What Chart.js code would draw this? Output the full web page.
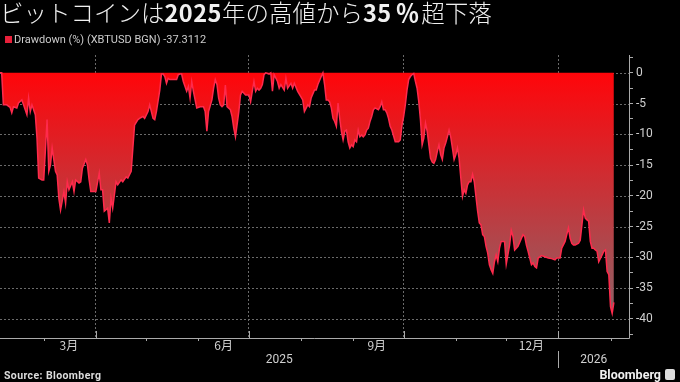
<!DOCTYPE html>
<html>
<head>
<meta charset="utf-8">
<script src="https://cdn.jsdelivr.net/npm/chart.js@4.4.1/dist/chart.umd.min.js"></script>
<style>
  html, body { margin: 0; padding: 0; background: #000; }
  #wrap { position: relative; width: 680px; height: 382px; overflow: hidden; background: #000; }
  #chart { position: absolute; left: 0; top: 0; }
  .title { position: absolute; left: 0; top: -2px; font-family: "Noto Sans CJK JP", sans-serif; font-size: 23.5px;
           line-height: 28px; color: #f0f0f0; font-weight: 300; white-space: nowrap; }
  .title b { font-weight: 700; letter-spacing: 0.5px; }
  .title .pc { margin: 0 2px 0 4px; letter-spacing: 0; }
  .legend { position: absolute; left: 5px; top: 33px; font-family: Roboto, sans-serif; font-size: 11px; color: #ccc; white-space: nowrap; }
  .legend i { display: inline-block; width: 7px; height: 7px; background: #e8203a; margin-right: 2px; }
  .source { position: absolute; left: 4px; top: 369px; font-family: Roboto, sans-serif; font-size: 10.5px; font-weight: 700;
            color: #ddd; letter-spacing: 0.4px; }
  .logo { position: absolute; right: 5px; top: 367px; font-family: Roboto, sans-serif; font-size: 12.5px; font-weight: 700; color: #f0f0f0; }
  .logo span { display: inline-block; width: 10px; height: 11px; background: #ddd; border-radius: 2px; margin-left: 4px; vertical-align: -1px; }
</style>
</head>
<body>
<div id="wrap">
  <canvas id="chart" width="680" height="382"></canvas>
  <div class="title">ビットコインは<b>2025</b>年の高値から<b>35</b><b class="pc">％</b>超下落</div>
  <div class="legend"><i></i>Drawdown (%) (XBTUSD BGN) -37.3112</div>
  <div class="source">Source: Bloomberg</div>
  <div class="logo">Bloomberg<span></span></div>
</div>
<script>
// days since 2025-02-03
const dayOffsets = [
  0, 1, 2, 4, 6, 7, 8, 10, 11, 13, 14, 16, 17, 18, 19, 21, 22, 23, 25, 26, 28, 29, 30, 31, 33, 34, 35, 36, 38, 39,
  40, 41, 43, 44, 45, 47, 48, 49, 51, 52, 53, 54, 56, 57, 59, 60, 61, 62, 64, 65, 66, 67, 69, 70, 72, 73, 75, 76, 78, 79,
  80, 82, 83, 85, 86, 88, 89, 90, 91, 92, 93, 95, 96, 97, 98, 99, 100, 101, 103, 105, 106, 107, 108, 109, 111, 112, 113, 114, 115, 117,
  119, 121, 122, 123, 124, 126, 127, 128, 129, 130, 131, 132, 133, 134, 135, 137, 138, 139, 140, 142, 143, 144, 146, 148, 149, 150, 151, 152, 153, 154,
  155, 156, 157, 158, 160, 161, 162, 163, 165, 166, 167, 169, 170, 171, 173, 174, 175, 177, 180, 181, 183, 184, 185, 187, 188, 189, 191, 192, 193, 194,
  195, 196, 197, 198, 199, 200, 201, 202, 203, 204, 205, 206, 207, 208, 209, 210, 211, 212, 213, 214, 215, 216, 217, 218, 219, 220, 221, 222, 223, 225,
  226, 227, 228, 229, 230, 231, 232, 233, 235, 236, 237, 238, 239, 240, 241, 242, 243, 244, 245, 246, 247, 248, 249, 250, 251, 252, 253, 254, 255, 256,
  257, 258, 259, 260, 261, 262, 263, 264, 265, 266, 267, 268, 269, 270, 271, 272, 273, 274, 275, 276, 277, 278, 279, 280, 281, 282, 283, 284, 285, 286,
  287, 288, 289, 290, 291, 292, 293, 294, 295, 296, 297, 298, 300, 301, 303, 304, 305, 306, 307, 308, 310, 311, 312, 313, 314, 316, 317, 318, 319, 320,
  322, 324, 326, 328, 330, 331, 333, 334, 336, 337, 338, 339, 340, 341, 342, 344, 345, 346, 347, 348, 349, 350, 351, 352, 353, 354, 355, 356, 358, 359,
  360, 361, 362, 363, 364, 365
];
const drawdown = [
  0, 0, -5.2, -5.2, -5.6, -6.5, -5.5, -5.7, -4.9, -4.4, -5.2, -6.8, -4.1, -6.3, -5.2, -6.8, -10.6, -17.1, -17.4, -17.4, -7.6, -16.0, -15.0, -12.2, -16.0, -16.6, -20.4, -22.3, -19.3, -21.2,
  -17.7, -19.0, -17.7, -19.3, -17.4, -17.9, -17.7, -15.5, -14.1, -15.0, -17.4, -19.3, -19.3, -19.3, -16.3, -19.0, -19.0, -22.5, -22.0, -24.4, -20.4, -22.0, -17.7, -18.2, -17.4, -17.7, -16.9, -17.1, -16.0, -12.2,
  -8.5, -7.6, -7.4, -7.1, -7.4, -6.3, -5.2, -6.3, -7.4, -7.6, -6.3, -2.8, -0.2, -0.2, -0.6, -1.7, -0.9, -1.1, -1.1, -1.1, -0.3, -0.2, -0.2, -1.4, -3.0, -2.2, -4.1, -1.4, -3.0, -5.7,
  -5.5, -5.5, -6.3, -9.5, -6.3, -4.4, -2.5, -1.1, -1.9, -4.1, -5.2, -5.5, -5.2, -2.0, -5.5, -6.0, -7.1, -9.0, -10.4, -6.3, -3.6, -3.0, -3.6, -3.6, -4.7, -3.0, -1.4, -3.0, -2.5, -2.8,
  -2.5, -1.9, -0.3, 0, -0.2, 0, -3.0, -0.3, -1.4, -2.5, -1.9, -2.8, -0.9, -2.5, -1.7, -2.5, -1.7, -3.0, -4.4, -6.3, -5.2, -5.5, -4.1, -2.8, -2.8, -1.9, -0.6, 0, -1.9, -4.4,
  -4.4, -4.7, -5.7, -7.4, -7.9, -8.7, -4.9, -7.4, -9.5, -10.9, -9.5, -9.3, -11.2, -12.2, -11.7, -12.0, -10.9, -11.2, -9.3, -10.4, -10.1, -10.4, -10.1, -9.3, -9.0, -7.9, -7.1, -6.0, -5.7, -6.0,
  -5.5, -4.7, -6.0, -6.0, -6.5, -7.4, -8.7, -9.3, -11.2, -11.2, -11.2, -10.9, -8.5, -7.1, -5.2, -2.8, -1.1, -0.6, -0.3, -0.1, -1.4, -2.5, -4.7, -7.6, -11.7, -10.6, -8.2, -9.5, -11.7, -13.9,
  -14.5, -14.7, -14.1, -12.8, -11.7, -13.3, -14.1, -12.2, -11.4, -10.4, -9.3, -10.4, -12.2, -14.1, -13.3, -12.2, -13.9, -17.1, -20.1, -19.0, -19.6, -18.2, -17.7, -17.7, -16.5, -17.7, -20.1, -22.5, -24.4, -24.7,
  -26.3, -26.6, -28.2, -29.3, -31.2, -32.0, -32.6, -30.7, -29.6, -30.7, -28.5, -27.4, -27.4, -31.1, -28.0, -25.6, -26.6, -28.8, -28.5, -28.2, -26.9, -26.3, -26.6, -28.0, -29.0, -31.2, -30.9, -31.5, -31.7, -30.1,
  -29.7, -29.9, -30.1, -30.2, -30.4, -30.1, -30.1, -28.5, -27.4, -26.3, -25.2, -26.9, -27.7, -28.0, -28.0, -27.7, -27.2, -24.7, -22.3, -23.6, -23.9, -24.1, -27.4, -28.5, -28.5, -28.8, -29.0, -30.7, -29.6, -29.0,
  -28.8, -32.3, -32.8, -38.0, -39.1, -37.3112
];

// x axis: month starts, quarter gridlines, labels (days since 2025-02-03)
const monthStartDays = [26, 57, 87, 118, 148, 179, 210, 240, 271, 301, 332, 363];
const quarterStartDays = [57, 148, 240, 332];
const monthLabels = ['3月', '6月', '9月', '12月'];
const monthLabelDays = [41, 133, 224, 316];
const yearLabels = ['2025', '2026'];
const yearLabelDays = [166, 353];
const yearDividerDay = 332;

const yTickValues = [-42.5, -40, -37.5, -35, -32.5, -30, -27.5, -25, -22.5, -20, -17.5, -15, -12.5, -10, -7.5, -5, -2.5, 0, 2.5];
const yGridValues = [0, -5, -10, -15, -20, -25, -30, -35, -40];

const axisColor = '#aaa';
const labelColor = '#d0d0d0';
const gridColor = '#6a6a6a';

// dotted horizontal gridlines, painted behind the area (only where nothing is drawn yet)
const yGrid = {
  id: 'yGrid',
  afterDatasetsDraw(chart) {
    const ctx = chart.ctx;
    const ys = chart.scales.y;
    const { left, right } = chart.chartArea;
    ctx.save();
    ctx.globalCompositeOperation = 'destination-over';
    ctx.strokeStyle = gridColor;
    ctx.lineWidth = 1;
    ctx.setLineDash([2, 2]);
    yGridValues.forEach(v => {
      const py = Math.round(ys.getPixelForValue(v)) + 0.5;
      ctx.beginPath();
      ctx.moveTo(left, py);
      ctx.lineTo(right, py);
      ctx.stroke();
    });
    ctx.restore();
  }
};

// axis lines, month / year labels and tick marks under the x axis
const xAxisLabels = {
  id: 'xAxisLabels',
  afterDraw(chart) {
    const ctx = chart.ctx;
    const xs = chart.scales.x;
    const { left, right, top, bottom } = chart.chartArea;
    ctx.save();
    ctx.strokeStyle = axisColor;
    ctx.lineWidth = 1;
    ctx.beginPath();
    ctx.moveTo(left, bottom + 0.5);
    ctx.lineTo(right + 0.5, bottom + 0.5);
    ctx.moveTo(right + 0.5, top);
    ctx.lineTo(right + 0.5, bottom + 0.5);
    ctx.stroke();

    monthStartDays.forEach(d => {
      const px = Math.round(xs.getPixelForValue(d)) + 0.5;
      ctx.beginPath();
      if (quarterStartDays.includes(d)) {
        ctx.moveTo(px, bottom - 7);
        ctx.lineTo(px, bottom);
      } else {
        ctx.moveTo(px, bottom);
        ctx.lineTo(px, bottom + 3);
      }
      ctx.stroke();
    });
    const dx = Math.round(xs.getPixelForValue(yearDividerDay)) + 0.5;
    ctx.beginPath();
    ctx.moveTo(dx, bottom + 13);
    ctx.lineTo(dx, bottom + 30);
    ctx.stroke();

    ctx.fillStyle = labelColor;
    ctx.textAlign = 'center';
    ctx.textBaseline = 'middle';
    ctx.font = '12px "Noto Sans CJK JP", Roboto, sans-serif';
    monthLabels.forEach((t, i) => ctx.fillText(t, xs.getPixelForValue(monthLabelDays[i]), bottom + 7));
    ctx.font = '12px Roboto, sans-serif';
    yearLabels.forEach((t, i) => ctx.fillText(t, xs.getPixelForValue(yearLabelDays[i]), bottom + 22));
    ctx.restore();
  }
};

const ctx = document.getElementById('chart').getContext('2d');
new Chart(ctx, {
  type: 'line',
  data: {
    datasets: [{
      label: 'Drawdown (%) (XBTUSD BGN)',
      data: dayOffsets.map((d, i) => ({ x: d, y: drawdown[i] })),
      borderColor: '#ff2a4c',
      borderWidth: 1.5,
      pointRadius: 0,
      tension: 0,
      fill: 'origin',
      backgroundColor: (c) => {
        const chart = c.chart;
        if (!chart.chartArea) return 'rgba(255,0,0,0.8)';
        const ys = chart.scales.y;
        const g = chart.ctx.createLinearGradient(0, ys.getPixelForValue(0), 0, ys.getPixelForValue(-40));
        g.addColorStop(0, 'rgb(255,5,10)');
        g.addColorStop(1, 'rgb(140,100,105)');
        return g;
      }
    }]
  },
  options: {
    responsive: false,
    animation: false,
    layout: { padding: { top: 55, bottom: 44, left: 0, right: 0 } },
    plugins: {
      legend: { display: false },
      tooltip: { enabled: false }
    },
    scales: {
      x: {
        type: 'linear',
        min: 0,
        max: 374,
        afterBuildTicks: (scale) => { scale.ticks = quarterStartDays.map(v => ({ value: v })); },
        afterFit: (scale) => { scale.height = 0; },
        ticks: { display: false, autoSkip: false },
        grid: { color: gridColor, drawTicks: false },
        border: { display: false, dash: [2, 2] }
      },
      y: {
        position: 'right',
        min: -43.1,
        max: 2.9,
        afterBuildTicks: (scale) => { scale.ticks = yTickValues.map(v => ({ value: v })); },
        afterFit: (scale) => { scale.width = 51; },
        ticks: {
          color: labelColor,
          padding: 3,
          autoSkip: false,
          font: { family: 'Roboto', size: 12 },
          callback: (v) => (v % 5 === 0 ? String(v) : '')
        },
        grid: {
          drawOnChartArea: false,
          tickColor: axisColor,
          tickLength: 4
        },
        border: { display: false }
      }
    }
  },
  plugins: [yGrid, xAxisLabels]
});
</script>
</body>
</html>
